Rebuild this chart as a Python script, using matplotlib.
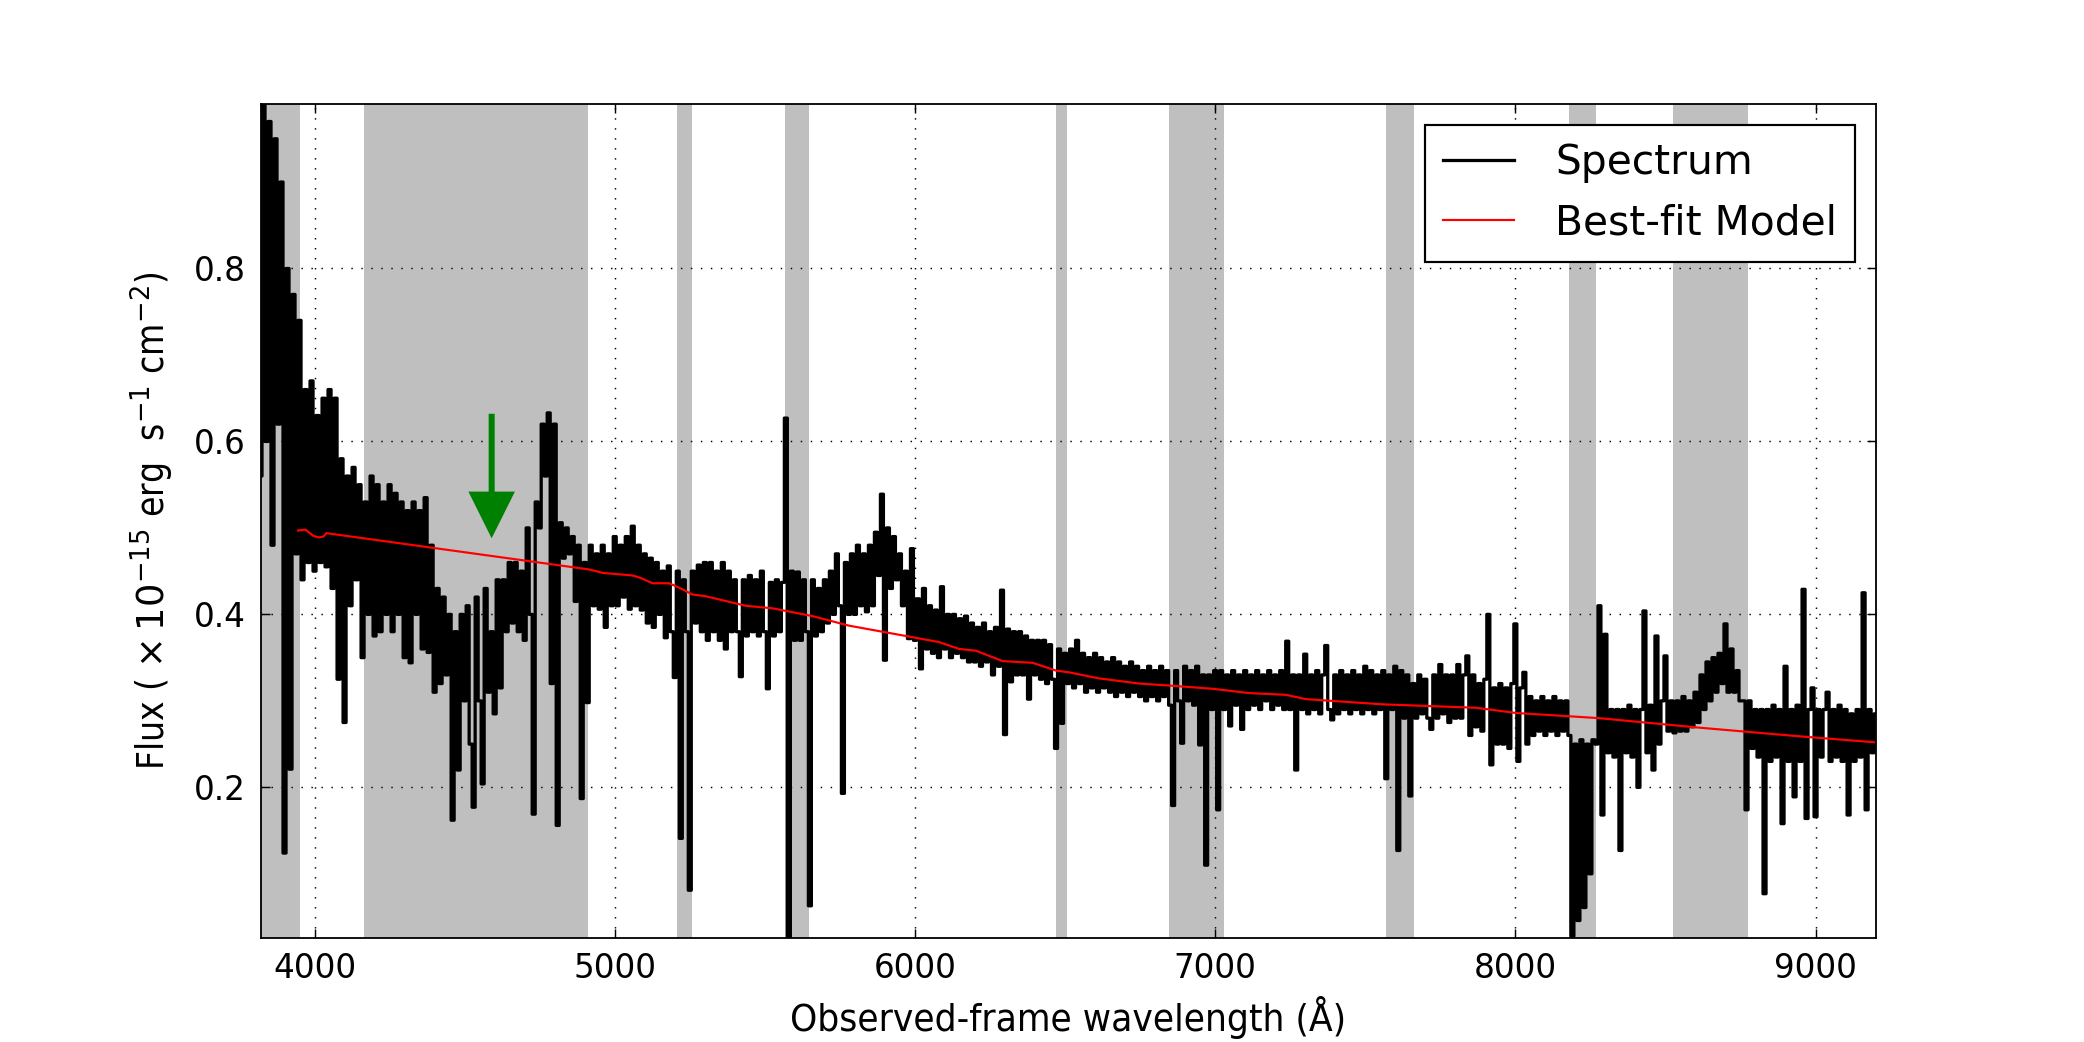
import numpy as np
import matplotlib
matplotlib.use("Agg")
import matplotlib.pyplot as plt

# observed spectrum, 10 A bins starting at 3820 A (flux in 1e-15 erg/s/cm2)
WAVE_START = 3820
WAVE_STEP = 10
FLUX = [
    .56, .99, .60, .97, .48, .95, .62, .90, .124, .80,
    .221, .77, .47, .74, .44, .66, .46, .67, .45, .63,
    .46, .65, .455, .66, .43, .65, .325, .58, .275, .56,
    .41, .57, .44, .55, .35, .53, .40, .56, .375, .55,
    .38, .53, .40, .55, .38, .54, .40, .53, .35, .52,
    .344, .53, .40, .52, .36, .535, .356, .48, .31, .43,
    .32, .42, .33, .40, .162, .38, .22, .40, .30, .41,
    .25, .177, .42, .30, .204, .43, .31, .38, .285, .44,
    .315, .44, .38, .46, .39, .46, .38, .45, .37, .50,
    .40, .169, .53, .50, .62, .56, .633, .32, .62, .156,
    .506, .465, .50, .47, .49, .415, .48, .187, .46, .298,
    .48, .41, .47, .406, .48, .385, .47, .41, .49, .41,
    .48, .42, .49, .406, .502, .41, .48, .405, .47, .39,
    .465, .385, .46, .40, .45, .373, .456, .38, .327, .45,
    .141, .44, .38, .081, .45, .39, .457, .38, .46, .37,
    .46, .38, .45, .37, .46, .36, .45, .38, .44, .38,
    .328, .44, .375, .445, .38, .44, .375, .45, .38, .314,
    .437, .375, .44, .38, .437, .627, .0, .45, .37, .449,
    .37, .44, .38, .063, .44, .375, .43, .38, .44, .39,
    .45, .40, .47, .41, .193, .46, .40, .47, .40, .48,
    .41, .47, .403, .48, .41, .495, .445, .539, .347, .50,
    .43, .49, .44, .47, .41, .45, .372, .476, .37, .418,
    .337, .43, .36, .41, .355, .405, .35, .432, .36, .40,
    .35, .40, .355, .395, .35, .398, .345, .39, .345, .385,
    .34, .39, .345, .38, .33, .385, .34, .428, .261, .383,
    .322, .38, .33, .38, .33, .375, .302, .37, .33, .37,
    .325, .37, .32, .365, .325, .245, .36, .274, .355, .32,
    .36, .315, .37, .32, .355, .31, .35, .315, .355, .31,
    .35, .315, .345, .31, .35, .305, .345, .31, .34, .305,
    .345, .31, .34, .305, .335, .30, .34, .305, .335, .30,
    .34, .305, .335, .295, .179, .335, .30, .251, .34, .30,
    .335, .295, .34, .249, .33, .11, .33, .29, .335, .174,
    .335, .29, .33, .271, .335, .295, .33, .267, .335, .29,
    .33, .295, .335, .29, .33, .30, .335, .29, .33, .295,
    .335, .29, .369, .29, .33, .22, .33, .29, .354, .285,
    .33, .29, .335, .285, .33, .364, .29, .278, .33, .285,
    .335, .29, .33, .285, .335, .29, .33, .285, .34, .29,
    .335, .285, .33, .29, .335, .21, .33, .29, .34, .127,
    .335, .28, .33, .19, .32, .28, .33, .285, .325, .28,
    .267, .33, .28, .342, .285, .33, .275, .33, .28, .342,
    .28, .33, .352, .26, .33, .27, .32, .265, .325, .40,
    .226, .315, .25, .32, .25, .315, .245, .32, .389, .23,
    .315, .333, .25, .305, .26, .30, .265, .305, .26, .30,
    .265, .305, .26, .30, .265, .30, .26, .028, .25, .046,
    .255, .061, .25, .10, .255, .25, .41, .168, .377, .24,
    .29, .235, .29, .127, .29, .24, .295, .235, .29, .20,
    .29, .404, .24, .295, .22, .375, .25, .30, .352, .265,
    .30, .263, .30, .265, .305, .265, .30, .27, .31, .275,
    .33, .29, .345, .30, .35, .31, .355, .32, .389, .31,
    .36, .31, .335, .30, .30, .174, .30, .245, .29, .235,
    .29, .077, .29, .23, .295, .235, .29, .158, .34, .23,
    .29, .189, .295, .23, .429, .164, .29, .315, .166, .29,
    .235, .29, .31, .23, .29, .235, .295, .23, .29, .168,
    .285, .23, .29, .235, .425, .174, .29, .24, .285,
]

# best-fit model
MODEL_WAVE = [3945, 3970, 3995, 4014, 4030, 4039, 4914, 4960, 5060, 5087,
              5126, 5181, 5214, 5259, 5303, 5436, 5526, 5659, 5780, 5970,
              6080, 6148, 6203, 6292, 6392, 6470, 6513, 6613, 6747, 6836,
              6991, 7113, 7236, 7302, 7558, 7869, 8002, 8280, 8613, 8947, 9200]
MODEL_FLUX = [.497, .498, .491, .489, .490, .494, .452, .448, .445, .442,
              .436, .436, .431, .423, .421, .410, .407, .398, .387, .375,
              .368, .360, .358, .346, .344, .335, .333, .326, .320, .318,
              .314, .309, .307, .302, .296, .292, .286, .280, .269, .259, .252]

# masked wavelength windows (grey bands)
MASK_LO = [3800, 4164, 5207, 5568, 6470, 6845, 7568, 8179, 8525]
MASK_HI = [3953, 4912, 5259, 5648, 6505, 7031, 7664, 8270, 8775]

ARROW_X = 4590
ARROW_TOP, ARROW_TIP = 0.632, 0.488

XLIM = (3820, 9200)
YLIM = (0.026, 0.990)

plt.rcParams.update({
    "xtick.direction": "in", "ytick.direction": "in",
    "xtick.top": True, "ytick.right": True,
    "xtick.major.size": 5, "ytick.major.size": 5,
    "xtick.major.pad": 8, "ytick.major.pad": 8,
    "axes.linewidth": 1.0,
})

fig, ax = plt.subplots(figsize=(16, 8), dpi=130.25)
fig.subplots_adjust(left=0.125, right=0.9, bottom=0.1, top=0.9)

for lo, hi in zip(MASK_LO, MASK_HI):
    ax.axvspan(lo, hi, color="gray", alpha=0.5, lw=0)

wave = WAVE_START + WAVE_STEP * np.arange(len(FLUX))
ax.plot(wave, FLUX, color="k", lw=1.8, drawstyle="steps-mid", label="Spectrum")
ax.plot(MODEL_WAVE, MODEL_FLUX, color="r", lw=1.2, label="Best-fit Model")

ax.arrow(ARROW_X, ARROW_TOP, 0, ARROW_TIP - ARROW_TOP, width=20, head_width=155,
         head_length=0.054, length_includes_head=True, color="green", lw=0, zorder=5)

ax.grid(True, color="k", lw=0.8, linestyle=(0, (1, 5.9)))
ax.set_xlim(*XLIM)
ax.set_ylim(*YLIM)
ax.set_xticks([4000, 5000, 6000, 7000, 8000, 9000])
ax.set_yticks([0.2, 0.4, 0.6, 0.8])
ax.tick_params(labelsize=18)

ax.set_xlabel("Observed-frame wavelength (Å)", fontsize=21.3, fontstretch="condensed",
              labelpad=6)
ax.set_ylabel(r"Flux ( $\times\,10^{-15}$ erg  s$^{-1}$ cm$^{-2}$)", fontsize=20.4,
              fontstretch="condensed", labelpad=10)

leg = ax.legend(loc="upper right", fontsize=22.5, fancybox=False, handlelength=1.75,
                handletextpad=1.0, borderpad=0.45, framealpha=1)
leg.get_frame().set_edgecolor("k")
leg.get_frame().set_linewidth(1.2)

fig.savefig("out.png", dpi=130.25, facecolor="white")
